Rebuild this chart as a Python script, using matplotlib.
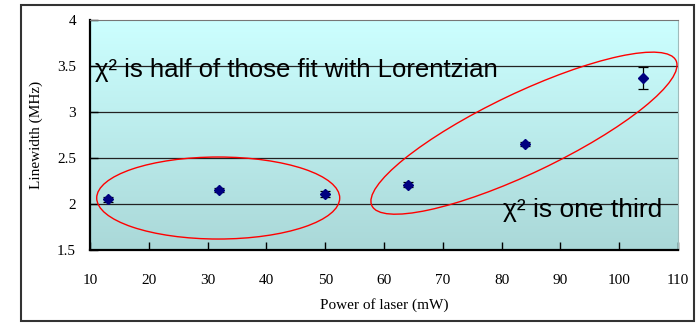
import numpy as np
import matplotlib
matplotlib.use("Agg")
from matplotlib import pyplot as plt
from matplotlib.colors import LinearSegmentedColormap
from matplotlib.patches import Ellipse, Rectangle
from matplotlib.transforms import ScaledTranslation

# ======= Data =====================================================
power_mw = [13, 32, 50, 64, 84, 104]
linewidth_mhz = [2.05, 2.15, 2.11, 2.21, 2.65, 3.37]
linewidth_err = [0.03, 0.02, 0.03, 0.025, 0.02, 0.12]

x_ticks = [10, 20, 30, 40, 50, 60, 70, 80, 90, 100, 110]
y_ticks = [1.5, 2, 2.5, 3, 3.5, 4]
y_tick_labels = ["1.5", "2", "2.5", "3", "3.5", "4"]

note_top = "χ² is half of those fit with Lorentzian"
note_bottom = "χ² is one third"

SERIF = ["Liberation Serif", "DejaVu Serif"]
SANS = ["Liberation Sans", "DejaVu Sans"]
# ==================================================================


def main() -> None:
    fig = plt.figure(figsize=(7.0, 3.23), dpi=100)
    ax = fig.add_axes([0.1286, 0.226, 0.840, 0.712])

    # outer frame
    fig.patches.append(
        Rectangle((21 / 700, 2 / 323), 673 / 700, 316 / 323, transform=fig.transFigure,
                  fill=False, edgecolor="#333333", linewidth=1.5)
    )

    ax.set_xlim(10, 110)
    ax.set_ylim(1.5, 4)

    # gradient background
    grad = np.linspace(0, 1, 256).reshape(-1, 1)
    cmap = LinearSegmentedColormap.from_list("bg", ["#aad8d8", "#ccffff"])
    ax.imshow(grad, extent=(0, 1, 0, 1), transform=ax.transAxes, aspect="auto",
              origin="lower", cmap=cmap, zorder=0)

    for yv in y_ticks[1:-1]:
        ax.axhline(yv, color="#222222", linewidth=0.9, zorder=1)

    ax.errorbar(power_mw, linewidth_mhz, yerr=linewidth_err, fmt="D", color="#000080",
                markersize=5, ecolor="black", elinewidth=0.9, capsize=3.5, capthick=0.9,
                zorder=5)

    # ellipses (size in inches, centred on data)
    e1 = Ellipse((0, 0), 2.43, 0.82, angle=0, fill=False, edgecolor="red", linewidth=1.0,
                 transform=fig.dpi_scale_trans + ScaledTranslation(31.8, 2.065, ax.transData),
                 zorder=4)
    e2 = Ellipse((0, 0), 3.37, 0.80, angle=25.5, fill=False, edgecolor="red", linewidth=1.0,
                 transform=fig.dpi_scale_trans + ScaledTranslation(83.8, 2.77, ax.transData),
                 zorder=4)
    ax.add_patch(e1)
    ax.add_patch(e2)

    ax.text(10.8, 3.46, note_top, fontsize=18.5, family=SANS, ha="left", va="center",
            zorder=6)
    ax.text(107.4, 1.94, note_bottom, fontsize=19, family=SANS, ha="right", va="center",
            zorder=6)

    ax.set_xticks(x_ticks)
    ax.set_yticks(y_ticks)
    ax.set_yticklabels(y_tick_labels)
    ax.tick_params(direction="in", length=6, width=1.0, labelsize=11, pad=10)
    ax.tick_params(axis="x", pad=17)
    for lbl in ax.get_xticklabels() + ax.get_yticklabels():
        lbl.set_family(SERIF)

    ax.spines["left"].set_linewidth(1.6)
    ax.spines["bottom"].set_linewidth(1.6)
    ax.spines["top"].set_color("#777777")
    ax.spines["right"].set_color("#9fbcbc")

    ax.set_xlabel("Power of laser (mW)", family=SERIF, fontsize=11, labelpad=8)
    ax.set_ylabel("Linewidth (MHz)", family=SERIF, fontsize=11, labelpad=10)

    fig.savefig("out.png", dpi=100)
    plt.close(fig)


if __name__ == "__main__":
    main()
